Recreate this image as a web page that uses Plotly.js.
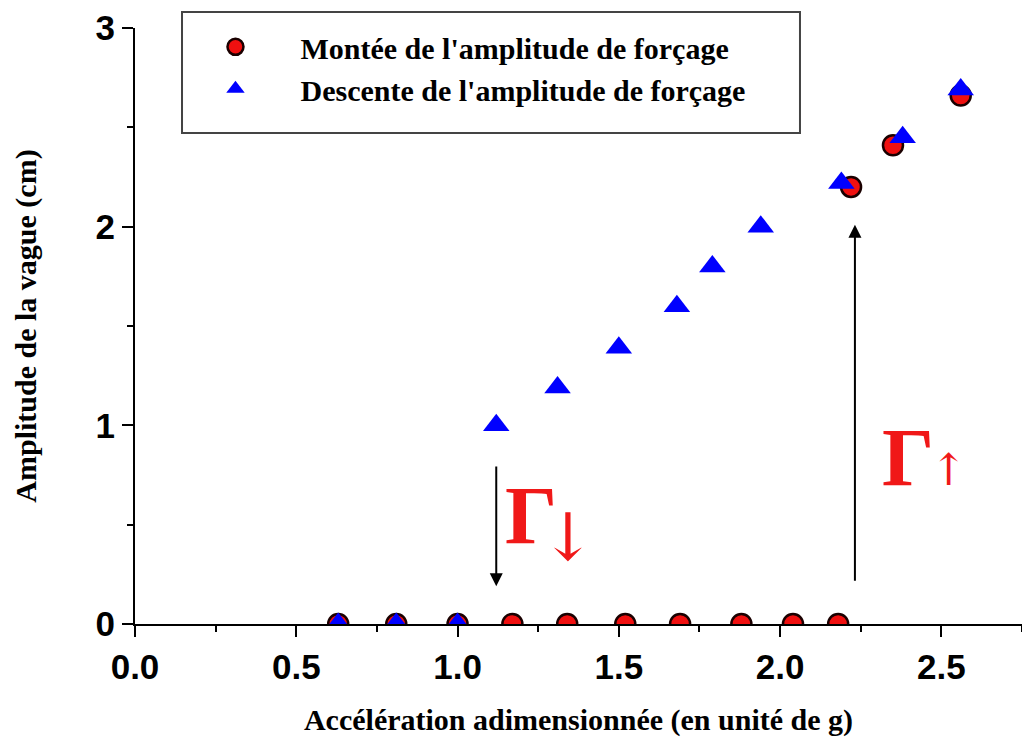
<!DOCTYPE html>
<html>
<head>
<meta charset="utf-8">
<script src="https://cdn.plot.ly/plotly-3.0.1.min.js"></script>
<style>html,body{margin:0;padding:0;background:#fff;}#chart{width:1022px;height:740px;}</style>
</head>
<body>
<div id="chart"></div>
<script>
// Montée de l'amplitude de forçage (circles)
const upX = [0.63, 0.81, 1.00, 1.17, 1.34, 1.52, 1.69, 1.88, 2.04, 2.18, 2.22, 2.35, 2.56];
const upY = [0, 0, 0, 0, 0, 0, 0, 0, 0, 0, 2.20, 2.41, 2.66];
// Descente de l'amplitude de forçage (triangles)
const downX = [0.63, 0.81, 1.00, 1.12, 1.31, 1.50, 1.68, 1.79, 1.94, 2.19, 2.38, 2.56];
const downY = [0, 0, 0, 1.00, 1.19, 1.39, 1.60, 1.80, 2.00, 2.22, 2.45, 2.69];
const seriesNames = ["Montée de l'amplitude de forçage", "Descente de l'amplitude de forçage"];
const xTitle = "Accélération adimensionnée (en unité de g)";
const yTitle = "Amplitude de la vague (cm)";
// thresholds
const gammaDown = 1.12;
const gammaUp = 2.232;

const traces = [
  {x: upX, y: upY, type: 'scatter', mode: 'markers', name: seriesNames[0],
   marker: {symbol: 'circle', size: 20, color: '#f01010', line: {color: '#1a0000', width: 2.5}}},
  {x: downX, y: downY, type: 'scatter', mode: 'markers', name: seriesNames[1],
   marker: {symbol: 'triangle-up', size: 23, color: '#0000ff', line: {width: 0}}}
];

const tickFont = {family: 'Liberation Sans, Arial, sans-serif', size: 35, color: '#000', weight: 'bold'};
const titleFont = {family: 'Liberation Serif, Times New Roman, serif', size: 30, color: '#000', weight: 'bold'};
const gammaFont = {family: 'Liberation Serif, Times New Roman, serif', size: 82, color: '#f01818', weight: 'bold'};

const layout = {
  width: 1022, height: 740,
  margin: {l: 135, r: 0, t: 28, b: 116},
  paper_bgcolor: '#fff', plot_bgcolor: '#fff',
  showlegend: true,
  legend: {x: 0.04, y: 1.012, xanchor: 'left', yanchor: 'top', bgcolor: 'rgba(0,0,0,0)', borderwidth: 0,
           itemwidth: 120, font: {family: 'Liberation Serif, Times New Roman, serif', size: 30, color: '#000', weight: 'bold'}},
  xaxis: {range: [0, 2.75], showgrid: false, zeroline: false, showline: true, linecolor: '#000', linewidth: 2,
          tickmode: 'array', tickvals: [0, 0.5, 1, 1.5, 2, 2.5], ticktext: ['0.0','0.5','1.0','1.5','2.0','2.5'],
          ticks: 'outside', ticklen: 11, tickwidth: 2, tickcolor: '#000',
          minor: {dtick: 0.25, tick0: 0, ticks: 'outside', ticklen: 6, tickwidth: 2, tickcolor: '#000'},
          tickfont: tickFont,
          title: {text: xTitle, font: titleFont, standoff: 24}},
  yaxis: {range: [0, 3], showgrid: false, zeroline: false, showline: true, linecolor: '#000', linewidth: 2,
          tickvals: [0, 1, 2, 3], ticks: 'outside', ticklen: 11, tickwidth: 2, tickcolor: '#000',
          minor: {dtick: 0.5, tick0: 0, ticks: 'outside', ticklen: 6, tickwidth: 2, tickcolor: '#000'},
          tickfont: tickFont,
          title: {text: yTitle, font: titleFont, standoff: 50}},
  shapes: [
    {type: 'rect', xref: 'paper', yref: 'paper', x0: 0.053, x1: 0.7497, y0: 0.8238, y1: 1.0268,
     line: {color: '#444', width: 2}, fillcolor: 'rgba(0,0,0,0)', layer: 'below'}
  ],
  annotations: [
    {x: gammaDown, y: 0.19, ax: gammaDown, ay: 0.80, xref: 'x', yref: 'y', axref: 'x', ayref: 'y',
     showarrow: true, arrowhead: 2, arrowsize: 1.3, arrowwidth: 2, arrowcolor: '#000', text: ''},
    {x: gammaUp, y: 2.01, ax: gammaUp, ay: 0.21, xref: 'x', yref: 'y', axref: 'x', ayref: 'y',
     showarrow: true, arrowhead: 2, arrowsize: 1.3, arrowwidth: 2, arrowcolor: '#000', text: ''},
    {x: 1.140, y: 0.51, xref: 'x', yref: 'y', xanchor: 'left', showarrow: false,
     text: '<span style="letter-spacing:-17px">Γ</span><sub><span style="font-size:66px;font-family:DejaVu Serif;font-weight:normal">↓</span></sub>', font: gammaFont},
    {x: 2.311, y: 0.84, xref: 'x', yref: 'y', xanchor: 'left', showarrow: false,
     text: '<span style="letter-spacing:-4px">Γ</span><span style="font-size:44px;font-family:DejaVu Serif;font-weight:normal">↑</span>', font: gammaFont}
  ]
};

Plotly.newPlot('chart', traces, layout, {displayModeBar: false, staticPlot: true});
</script>
</body>
</html>
